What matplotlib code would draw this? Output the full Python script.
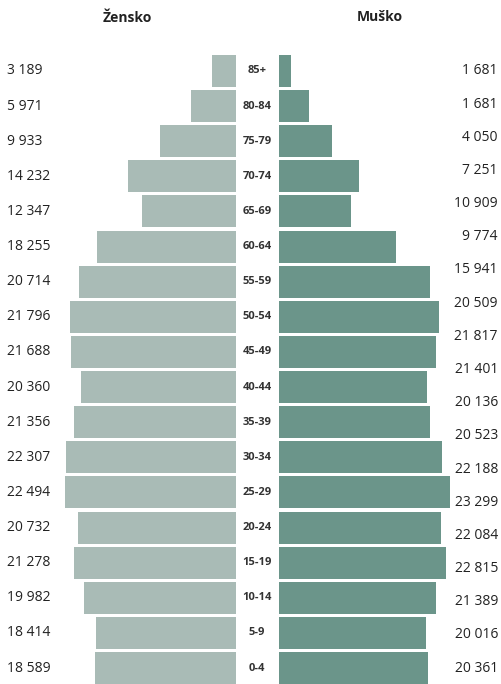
import matplotlib.pyplot as plt
from matplotlib.transforms import blended_transform_factory
import numpy as np

plt.rcParams['font.family'] = ['Open Sans', 'DejaVu Sans']

# grupe starosti, od najmlajše do najstarejše
starost = ['0-4', '5-9', '10-14', '15-19', '20-24', '25-29', '30-34', '35-39',
           '40-44', '45-49', '50-54', '55-59', '60-64', '65-69', '70-74',
           '75-79', '80-84', '85+']
zensko = [18589, 18414, 19982, 21278, 20732, 22494, 22307, 21356,
          20360, 21688, 21796, 20714, 18255, 12347, 14232, 9933, 5971, 3189]
musko = [20361, 20016, 21389, 22815, 22084, 23299, 22188, 20523,
         20136, 21401, 21817, 20509, 15941, 9774, 10909, 7251, 4050, 1681]
# oznake na desni strani, kot so v izvirniku (od zgoraj navzdol)
musko_oznake = ['1 681', '1 681', '4 050', '7 251', '10 909', '9 774', '15 941',
                '20 509', '21 817', '21 401', '20 136', '20 523', '22 188',
                '23 299', '22 084', '22 815', '21 389', '20 016', '20 361']

barva_z = '#a9bbb6'
barva_m = '#6b958a'
W, H = 501, 684


def fmt(v):
    return f"{v:,}".replace(',', ' ')


fig = plt.figure(figsize=(W / 100, H / 100), dpi=100)
top = 1 - 55 / H
ax_z = fig.add_axes([64 / W, 0, 172 / W, top])
ax_m = fig.add_axes([279 / W, 0, 171 / W, top])

y = np.arange(len(starost))
ax_z.barh(y, zensko, height=0.91, color=barva_z)
ax_m.barh(y, musko, height=0.91, color=barva_m)

ax_z.set_xlim(max(zensko) * 172 / 171, 0)
ax_m.set_xlim(0, max(musko))

for ax in (ax_z, ax_m):
    ax.set_ylim(-0.455, len(starost) - 0.545)
    ax.axis('off')

# x v koordinatah slike, y v podatkih
blend = blended_transform_factory(fig.transFigure, ax_z.transData)

# starostne skupine na sredini
for i, s in enumerate(starost):
    ax_z.text(257 / W, i, s, transform=blend, ha='center', va='center',
              fontsize=8, fontweight='bold', color='#333333', clip_on=False)

# vrednosti levo
for i, v in enumerate(zensko):
    ax_z.text(7 / W, i, fmt(v), transform=blend, ha='left', va='center',
              fontsize=10, color='#222222', clip_on=False)

# vrednosti desno (19 oznak, enakomerno razporejenih)
pos = np.linspace(len(starost) - 1, 0, len(musko_oznake))
for p, lab in zip(pos, musko_oznake):
    ax_z.text(498 / W, p, lab, transform=blend, ha='right', va='center',
              fontsize=10, color='#222222', clip_on=False)

fig.text(127 / W, 1 - 18 / H, 'Žensko', ha='center', va='center',
         fontsize=10, fontweight='bold', color='#222222')
fig.text(380 / W, 1 - 17 / H, 'Muško', ha='center', va='center',
         fontsize=10, fontweight='bold', color='#222222')

fig.savefig('out.png', dpi=100)
